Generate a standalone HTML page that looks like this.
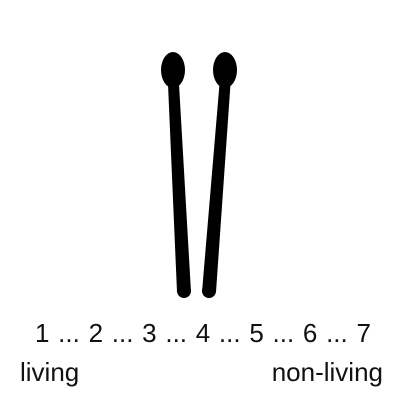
<!DOCTYPE html>
<html><head><style>
body{margin:0;width:400px;height:400px;background:#fff;overflow:hidden;position:relative;font-family:"Liberation Sans",sans-serif;color:#111}
.t{position:absolute;font-size:26px;line-height:30px;white-space:nowrap}
</style></head><body>
<svg width="400" height="400" style="position:absolute;left:0;top:0">
<g>
<polygon points="168,84 179,84 191,292 177,292" fill="#000"/>
<circle cx="184" cy="291" r="7" fill="#000"/>
<ellipse cx="173" cy="70" rx="12" ry="18" fill="#000"/>
</g>
<g>
<polygon points="219.5,84 230.5,84 216,292 202,292" fill="#000"/>
<circle cx="209" cy="291" r="7" fill="#000"/>
<ellipse cx="225" cy="70" rx="12" ry="18" fill="#000"/>
</g>
</svg>
<div class="t" style="left:35px;top:318px;word-spacing:1.5px">1 ... 2 ... 3 ... 4 ... 5 ... 6 ... 7</div>
<div class="t" style="left:20px;top:357px">living</div>
<div class="t" style="right:17px;top:357px">non-living</div>
</body></html>
